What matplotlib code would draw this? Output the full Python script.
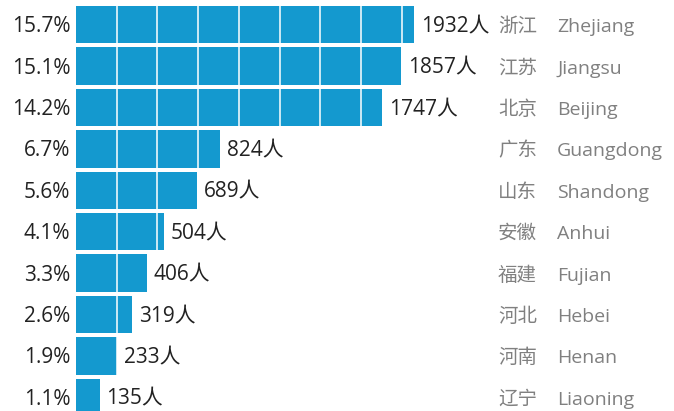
import matplotlib
matplotlib.use("Agg")
import matplotlib.pyplot as plt

counts = [1932, 1857, 1747, 824, 689, 504, 406, 319, 233, 135]
percents = ["15.7%", "15.1%", "14.2%", "6.7%", "5.6%", "4.1%", "3.3%", "2.6%", "1.9%", "1.1%"]
provinces_cn = ["浙江", "江苏", "北京", "广东", "山东", "安徽", "福建", "河北", "河南", "辽宁"]
provinces_en = ["Zhejiang", "Jiangsu", "Beijing", "Guangdong", "Shandong", "Anhui", "Fujian", "Hebei", "Henan", "Liaoning"]

W, H = 674, 411
DPI = 100
fig = plt.figure(figsize=(W / DPI, H / DPI), dpi=DPI)

ax_left = 76
ax = fig.add_axes([ax_left / W, 0, (W - ax_left) / W, 1])
px_per_unit = 338 / 1932.0
ax.set_xlim(0, (W - ax_left) / px_per_unit)
pitch = 41.4
first_center = 24.75
ax.set_ylim((H - first_center) / pitch, -first_center / pitch)
ax.axis("off")

bar_color = "#1499cf"
n = len(counts)
ys = list(range(n))
ax.barh(ys, counts, height=37.5 / pitch, color=bar_color, zorder=1)

# white separators inside bars
step = 40.7 / px_per_unit
k = 1
while k * step < max(counts):
    ax.axvline(k * step, color="white", lw=1.1, zorder=2)
    k += 1

num_font = ["Open Sans", "Noto Sans CJK SC", "DejaVu Sans"]
cjk_font = ["Noto Sans CJK SC", "DejaVu Sans"]
fs = 15
dark = "#222222"
gray = "#808080"
base_dy = -5.4  # points: baseline below row centre

x_cn = 498 - ax_left  # pixels from axes left
x_en = 557 - ax_left
for y, c, p, cn, en in zip(ys, counts, percents, provinces_cn, provinces_en):
    ax.annotate(p, xy=(0, y), xytext=(-4, base_dy), textcoords="offset points",
                ha="right", va="baseline", fontsize=fs, color=dark, family=num_font)
    ax.annotate(f"{c}人", xy=(c, y), xytext=(5, base_dy), textcoords="offset points",
                ha="left", va="baseline", fontsize=fs, color=dark, family=num_font)
    ax.annotate(cn, xy=(0, y), xytext=(x_cn * 0.72, base_dy), textcoords="offset points",
                ha="left", va="baseline", fontsize=fs - 1, color=gray, family=cjk_font)
    ax.annotate(en, xy=(0, y), xytext=(x_en * 0.72, base_dy), textcoords="offset points",
                ha="left", va="baseline", fontsize=fs - 1, color=gray, family=num_font)

fig.savefig("out.png", dpi=DPI)
